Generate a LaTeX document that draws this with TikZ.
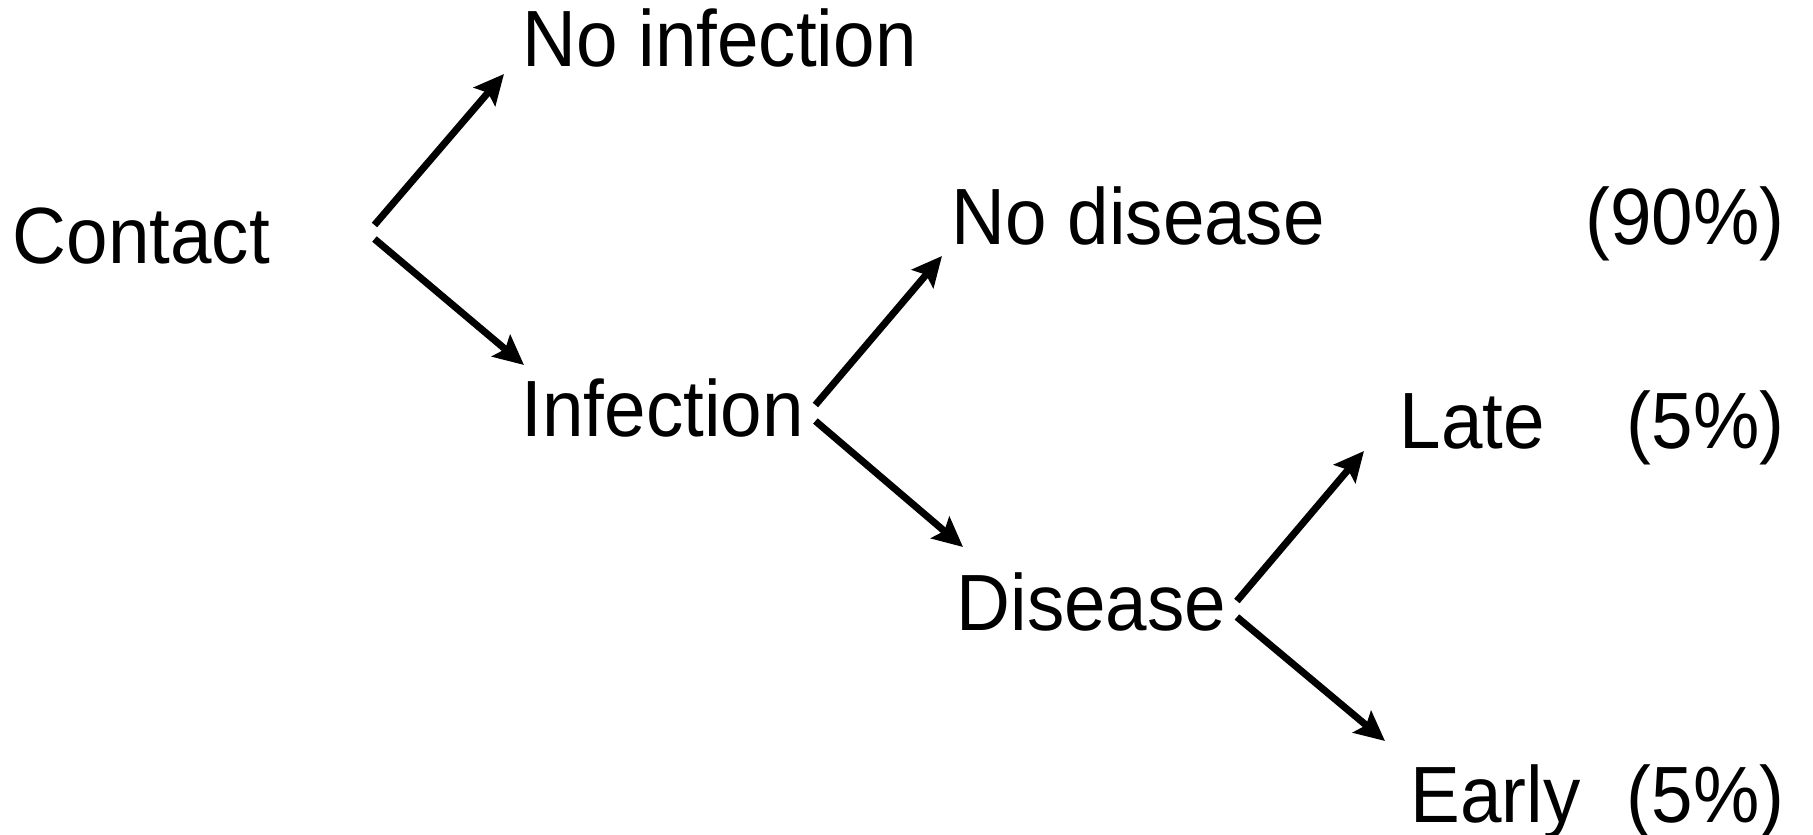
\documentclass[tikz,border=0pt]{standalone}
\usepackage{fontspec}
\setmainfont{Liberation Sans}[FakeStretch=0.935]
\usetikzlibrary{arrows.meta}
\tikzset{
  lbl/.style={anchor=base west, inner sep=0pt, font=\fontsize{22.7}{27}\selectfont},
  pct/.style={lbl, anchor=base east},
  arr/.style={black, line width=2pt, -{Stealth[length=8.5pt, width=8pt, inset=1.5pt]}}
}
\begin{document}
\begin{tikzpicture}
		\useasboundingbox (0,0) rectangle (18.13,8.34);
		% labels
		\node[lbl] (contact) at (0.12,5.70) {Contact};
		\node[lbl] (noinf) at (5.22,7.67) {No infection};
		\node[lbl] (inf) at (5.21,3.97) {Infection};
		\node[lbl] (nodis) at (9.51,5.89) {No disease};
		\node[pct] (p90) at (17.85,5.89) {(90\%)};
		\node[lbl] (dis) at (9.56,2.04) {Disease};
		\node[lbl] (late) at (13.99,3.85) {Late};
		\node[pct] (plate) at (17.85,3.85) {(5\%)};
		\node[lbl] (early) at (14.10,0.12) {Early};
		\node[pct] (pearly) at (17.85,0.12) {(5\%)};
		% branches
		\draw[arr] ([shift={(1.04,0.39)}]contact.base east) -- ([shift={(-0.18,-0.07)}]noinf.base west);
		\draw[arr] ([shift={(1.04,0.25)}]contact.base east) -- ([shift={(0.03,0.72)}]inf.base west);
		\draw[arr] ([shift={(0.11,0.32)}]inf.base east) -- ([shift={(-0.09,-0.11)}]nodis.base west);
		\draw[arr] ([shift={(0.11,0.16)}]inf.base east) -- ([shift={(0.07,0.83)}]dis.base west);
		\draw[arr] ([shift={(0.10,0.29)}]dis.base east) -- ([shift={(-0.35,-0.02)}]late.base west);
		\draw[arr] ([shift={(0.10,0.13)}]dis.base east) -- ([shift={(-0.25,0.81)}]early.base west);
		\end{tikzpicture}
\end{document}
